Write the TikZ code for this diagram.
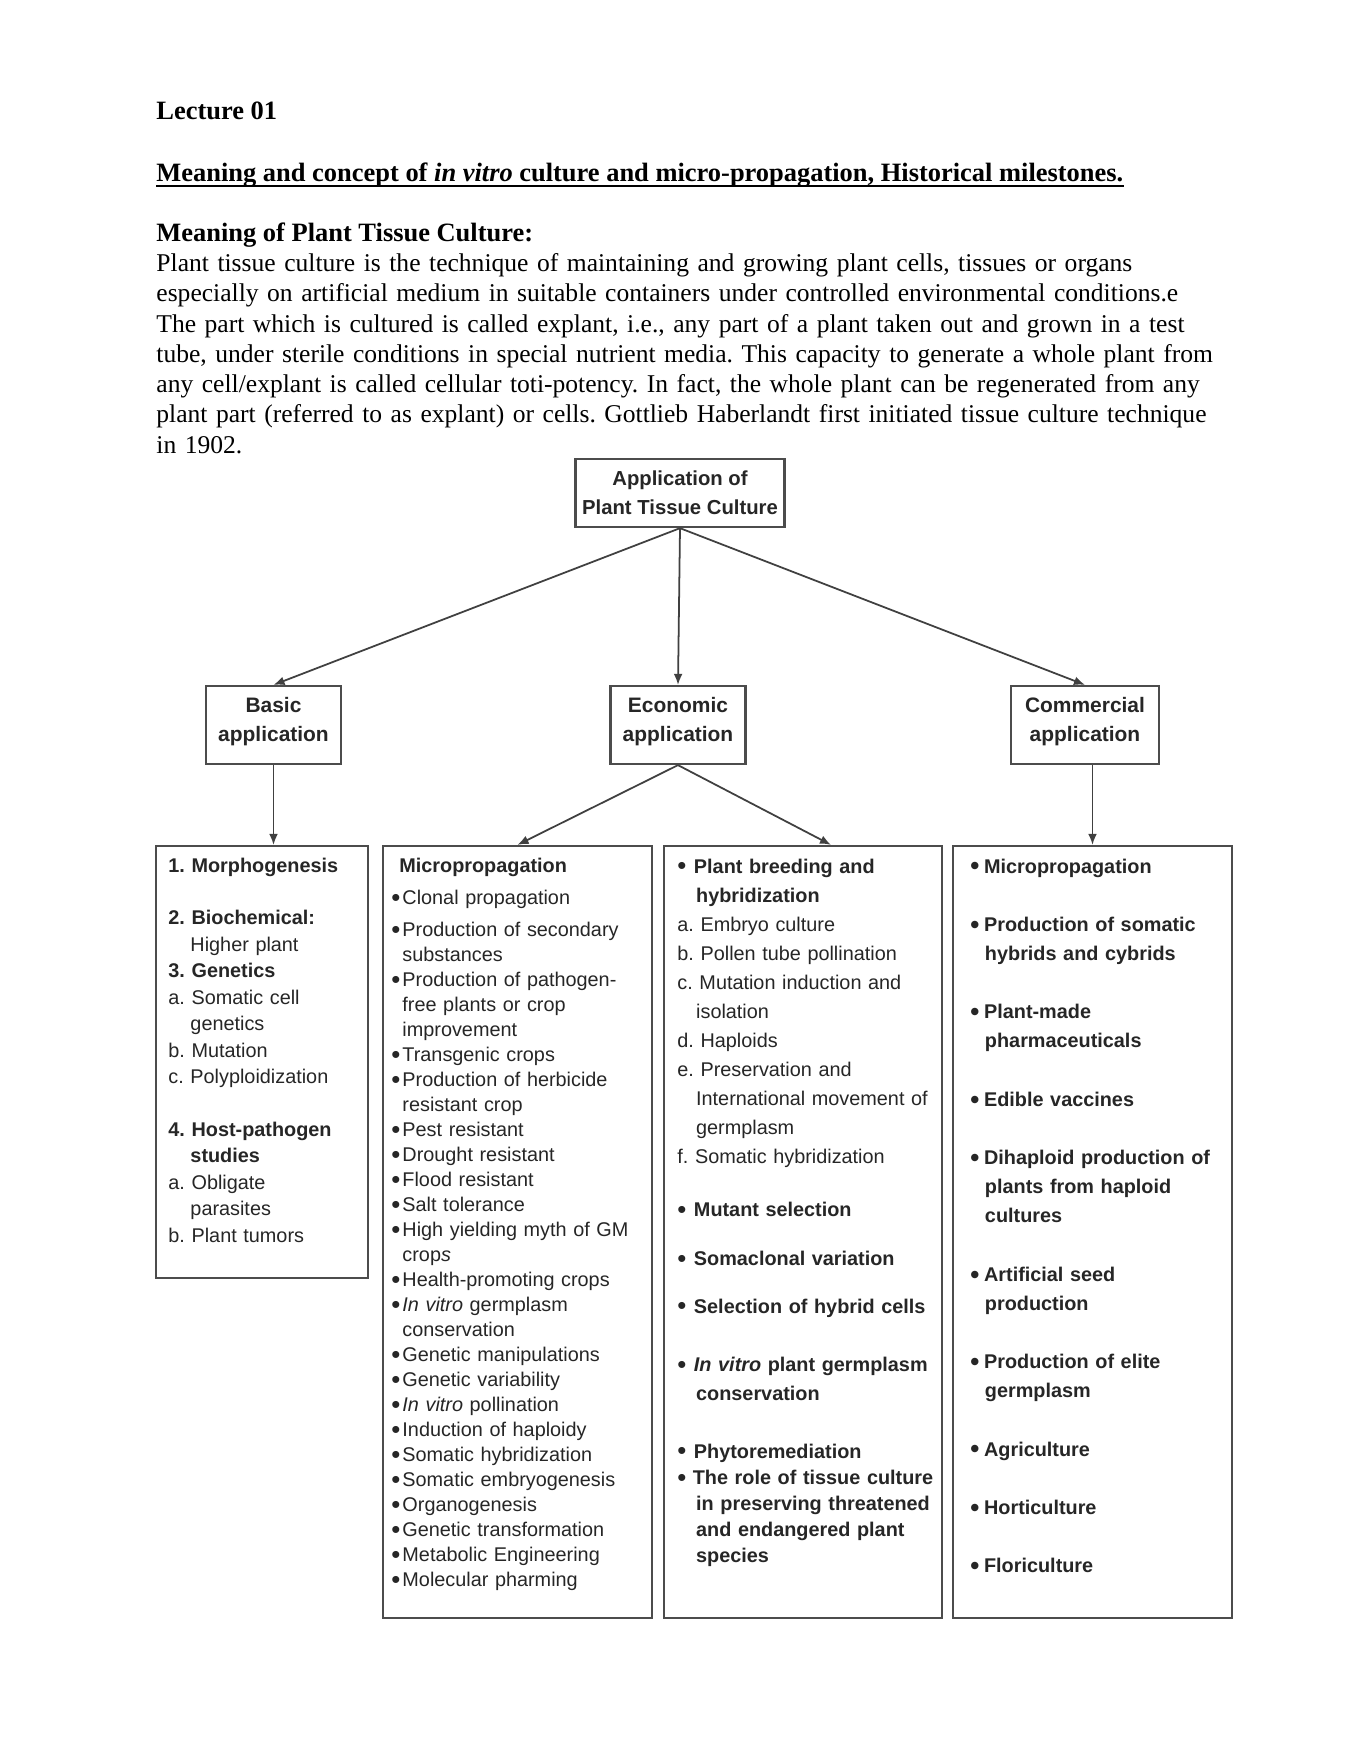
\documentclass[tikz,border=0pt]{standalone}
\usepackage{fontspec}
\setmainfont{Liberation Serif}
\newfontfamily\diagfont{Liberation Sans}
\usetikzlibrary{calc}
\usetikzlibrary{arrows.meta}

\newcommand{\bitem}[1][5pt]{\makebox[#1][l]{\raisebox{-0.8pt}{\scalebox{1.3}{\textbullet}}}}
\newcommand{\bcont}[1][5pt]{\hspace*{#1}}
\frenchspacing

\begin{document}
\begin{tikzpicture}[x=0.4537pt,y=-0.4537pt,
			box/.style={draw=black!70,line width=1pt,inner sep=0pt,align=center,text=black!85,font=\diagfont\bfseries\fontsize{9.5}{13.1}\selectfont},
			panel/.style={draw=black!70,line width=1pt,inner sep=0pt},
			list/.style={anchor=base west,inner sep=0pt,text width=150pt,align=left,text=black!85},
			para/.style={anchor=base west,inner sep=0pt,font=\fontsize{11.6}{13.73}\selectfont},
			link/.style={line width=0.8pt,draw=black!75,-{Latex[length=5pt,width=4pt]}}]
			\path[use as bounding box,fill=white] (0,0) rectangle (1348,1744);
			% page text
			\node[para,font=\bfseries\fontsize{12}{13.73}\selectfont] (lecture) at (156,119) {Lecture 01};
			\node[para,font=\bfseries\fontsize{12}{13.73}\selectfont] (title) at (156,181.5) {Meaning and concept of \textit{in vitro} culture and micro-propagation, Historical milestones.};
			\draw[line width=0.8pt] ([yshift=-2pt]title.base west) -- ([yshift=-2pt]title.base east);
			\node[para,font=\bfseries\fontsize{12}{13.73}\selectfont] (meaning) at (156,241.5) {Meaning of Plant Tissue Culture:};
			\node[para,text width=520pt,align=left] (intro) at (156,271.5) {Plant tissue culture is the technique of maintaining and growing plant cells, tissues or organs\\
				especially on artificial medium in suitable containers under controlled environmental conditions.e\\
				The part which is cultured is called explant, i.e., any part of a plant taken out and grown in a test\\
				tube, under sterile conditions in special nutrient media. This capacity to generate a whole plant from\\
				any cell/explant is called cellular toti-potency. In fact, the whole plant can be regenerated from any\\
				plant part (referred to as explant) or cells. Gottlieb Haberlandt first initiated tissue culture technique\\
				in 1902.};
			% chart
			\node[box,minimum width=94.8pt,minimum height=30.9pt,font=\diagfont\bfseries\fontsize{9.2}{13.1}\selectfont] (ptc) at (680,493) {Application of\\Plant Tissue Culture};
			\node[box,minimum width=61.25pt,minimum height=35.4pt] (basic) at (273.5,725) {Basic\\application\\[-8.2pt]};
			\node[box,minimum width=61.25pt,minimum height=35.4pt] (econ) at (678,725) {Economic\\application\\[-8.2pt]};
			\node[box,minimum width=67.1pt,minimum height=35.4pt] (comm) at (1085,725) {Commercial\\application\\[-8.2pt]};
			\node[panel,minimum width=96.2pt,minimum height=196pt] (basicbox) at (262,1062) {};
			\node[panel,minimum width=122pt,minimum height=350.3pt] (microbox) at (517.5,1232) {};
			\node[panel,minimum width=126.1pt,minimum height=350.3pt] (breedbox) at (803,1232) {};
			\node[panel,minimum width=126.6pt,minimum height=350.3pt] (commbox) at (1092.5,1232) {};
			\draw[link] (ptc.south) -- (basic.north);
			\draw[link] (ptc.south) -- (econ.north);
			\draw[link] (ptc.south) -- (comm.north);
			\draw[link] (basic.south) -- (basic.south |- basicbox.north);
			\draw[link] (econ.south) -- (microbox.north);
			\draw[link] (econ.south) -- ($(breedbox.north west)!0.6!(breedbox.north east)$);
			\draw[link] (comm.south -| commbox.north) -- (commbox.north);
			% lists
			\node[list,font=\diagfont\fontsize{9}{12}\selectfont] (basiclist) at (168,872) {\textbf{1. Morphogenesis}\\[12pt]
				\textbf{2. Biochemical:}\\
				\hspace*{10pt}Higher plant\\
				\textbf{3. Genetics}\\
				a. Somatic cell\\
				\hspace*{10pt}genetics\\
				b. Mutation\\
				c. Polyploidization\\[12pt]
				\textbf{4. Host-pathogen}\\
				\hspace*{10pt}\textbf{studies}\\
				a. Obligate\\
				\hspace*{10pt}parasites\\
				b. Plant tumors};
			\node[list,font=\diagfont\fontsize{9}{11.34}\selectfont] (microlist) at (391,872) {\hspace*{3.6pt}\textbf{Micropropagation}\\[3.6pt]
				\bitem Clonal propagation\\[3.2pt]
				\bitem Production of secondary\\
				\bcont substances\\
				\bitem Production of pathogen-\\
				\bcont free plants or crop\\
				\bcont improvement\\
				\bitem Transgenic crops\\
				\bitem Production of herbicide\\
				\bcont resistant crop\\
				\bitem Pest resistant\\
				\bitem Drought resistant\\
				\bitem Flood resistant\\
				\bitem Salt tolerance\\
				\bitem High yielding myth of GM\\
				\bcont crop\textit{s}\\
				\bitem Health-promoting crops\\
				\bitem \textit{In vitro} germplasm\\
				\bcont conservation\\
				\bitem Genetic manipulations\\
				\bitem Genetic variability\\
				\bitem \textit{In vitro} pollination\\
				\bitem Induction of haploidy\\
				\bitem Somatic hybridization\\
				\bitem Somatic embryogenesis\\
				\bitem Organogenesis\\
				\bitem Genetic transformation\\
				\bitem Metabolic Engineering\\
				\bitem Molecular pharming};
			\node[list,font=\diagfont\fontsize{9}{13.2}\selectfont] (breedlist) at (677,873) {\bitem[7.5pt]\textbf{Plant breeding and}\\
				\bcont[8.5pt]\textbf{hybridization}\\
				a. Embryo culture\\
				b. Pollen tube pollination\\
				c. Mutation induction and\\
				\bcont[8.5pt]isolation\\
				d. Haploids\\
				e. Preservation and\\
				\bcont[8.5pt]International movement of\\
				\bcont[8.5pt]germplasm\\
				f. Somatic hybridization\\[10.8pt]
				\bitem[7.5pt]\textbf{Mutant selection}\\[9pt]
				\bitem[7.5pt]\textbf{Somaclonal variation}\\[8.3pt]
				\bitem[7.5pt]\textbf{Selection of hybrid cells}\\[13.4pt]
				\bitem[7.5pt]\textbf{\textit{In vitro} plant germplasm}\\
				\bcont[8.5pt]\textbf{conservation}};
			\node[list,font=\diagfont\fontsize{9}{11.9}\selectfont] (rolelist) at (677,1458) {\bitem[7.5pt]\textbf{Phytoremediation}\\
				\bitem[7pt]\textbf{The role of tissue culture}\\
				\bcont[8.5pt]\textbf{in preserving threatened}\\
				\bcont[8.5pt]\textbf{and endangered plant}\\
				\bcont[8.5pt]\textbf{species}};
			\node[list,font=\diagfont\bfseries\fontsize{9}{13.23}\selectfont] (commlist) at (970,873) {\bitem[6.2pt]Micropropagation\\[13.23pt]
				\bitem[6.2pt]Production of somatic\\
				\bcont[6.6pt]hybrids and cybrids\\[13.23pt]
				\bitem[6.2pt]Plant-made\\
				\bcont[6.6pt]pharmaceuticals\\[13.23pt]
				\bitem[6.2pt]Edible vaccines\\[13.23pt]
				\bitem[6.2pt]Dihaploid production of\\
				\bcont[6.6pt]plants from haploid\\
				\bcont[6.6pt]cultures\\[13.23pt]
				\bitem[6.2pt]Artificial seed\\
				\bcont[6.6pt]production\\[13.23pt]
				\bitem[6.2pt]Production of elite\\
				\bcont[6.6pt]germplasm\\[13.23pt]
				\bitem[6.2pt]Agriculture\\[13.23pt]
				\bitem[6.2pt]Horticulture\\[13.23pt]
				\bitem[6.2pt]Floriculture};
		\end{tikzpicture}
\end{document}
